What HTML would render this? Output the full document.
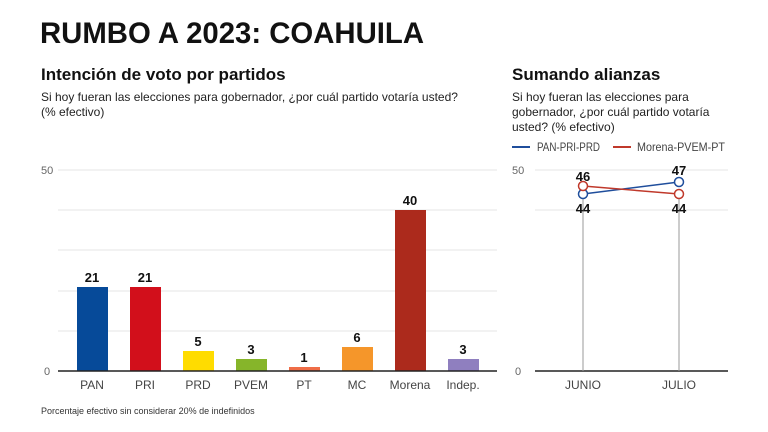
<!DOCTYPE html>
<html><head><meta charset="utf-8"><style>
body{margin:0;width:768px;height:432px;background:#fff;overflow:hidden;font-family:"Liberation Sans",sans-serif}
svg{position:absolute;left:0;top:0}
</style></head><body>
<svg width="768" height="432" font-family="Liberation Sans, sans-serif">
<text x="40" y="43" font-size="30" font-weight="bold" fill="#111" textLength="384" lengthAdjust="spacingAndGlyphs">RUMBO A 2023: COAHUILA</text>
<text x="41" y="80" font-size="17" font-weight="bold" fill="#111">Intención de voto por partidos</text>
<text x="41" y="101" font-size="12" fill="#222">Si hoy fueran las elecciones para gobernador, ¿por cuál partido votaría usted?</text>
<text x="41" y="116" font-size="12" fill="#222">(% efectivo)</text>
<text x="512" y="80" font-size="17" font-weight="bold" fill="#111">Sumando alianzas</text>
<text x="512" y="101" font-size="12" fill="#222">Si hoy fueran las elecciones para</text>
<text x="512" y="116" font-size="12" fill="#222">gobernador, ¿por cuál partido votaría</text>
<text x="512" y="131" font-size="12" fill="#222">usted? (% efectivo)</text>
<line x1="512" y1="147" x2="530" y2="147" stroke="#1f4e9c" stroke-width="2"/>
<text x="537" y="151" font-size="12" fill="#444" textLength="63" lengthAdjust="spacingAndGlyphs">PAN-PRI-PRD</text>
<line x1="613" y1="147" x2="631" y2="147" stroke="#c0392b" stroke-width="2"/>
<text x="637" y="151" font-size="12" fill="#444" textLength="88" lengthAdjust="spacingAndGlyphs">Morena-PVEM-PT</text>
<g stroke="#e6e6e6" stroke-width="1">
<line x1="58" y1="170" x2="497" y2="170"/><line x1="58" y1="210" x2="497" y2="210"/><line x1="58" y1="250" x2="497" y2="250"/><line x1="58" y1="291" x2="497" y2="291"/><line x1="58" y1="331" x2="497" y2="331"/>
<line x1="535" y1="170" x2="728" y2="170"/><line x1="535" y1="210" x2="728" y2="210"/>
</g>
<g font-size="11" fill="#666"><text x="41" y="174">50</text><text x="44" y="375">0</text><text x="512" y="174">50</text><text x="515" y="375">0</text></g>
<rect x="77" y="287" width="31" height="84" fill="#064a99"/>
<rect x="130" y="287" width="31" height="84" fill="#d20f1b"/>
<rect x="183" y="351" width="31" height="20" fill="#ffdc00"/>
<rect x="236" y="359" width="31" height="12" fill="#86b52a"/>
<rect x="289" y="367" width="31" height="4" fill="#ef6d47"/>
<rect x="342" y="347" width="31" height="24" fill="#f5962a"/>
<rect x="395" y="210" width="31" height="161" fill="#ac2a1c"/>
<rect x="448" y="359" width="31" height="12" fill="#8f7fbf"/>
<line x1="58" y1="371" x2="497" y2="371" stroke="#222" stroke-width="1.5"/>
<line x1="535" y1="371" x2="728" y2="371" stroke="#222" stroke-width="1.5"/>
<g font-size="13" font-weight="bold" fill="#111" text-anchor="middle">
<text x="92" y="282">21</text><text x="145" y="282">21</text><text x="198" y="346">5</text><text x="251" y="354">3</text><text x="304" y="362">1</text><text x="357" y="342">6</text><text x="410" y="205">40</text><text x="463" y="354">3</text>
</g>
<g font-size="12" fill="#444" text-anchor="middle">
<text x="92" y="389">PAN</text><text x="145" y="389">PRI</text><text x="198" y="389">PRD</text><text x="251" y="389">PVEM</text><text x="304" y="389">PT</text><text x="357" y="389">MC</text><text x="410" y="389">Morena</text><text x="463" y="389">Indep.</text>
<text x="583" y="389">JUNIO</text><text x="679" y="389">JULIO</text>
</g>
<line x1="583" y1="194" x2="583" y2="371" stroke="#999"/>
<line x1="679" y1="194" x2="679" y2="371" stroke="#999"/>
<polyline points="583,194 679,182" fill="none" stroke="#1f4e9c" stroke-width="1.5"/>
<polyline points="583,186 679,194" fill="none" stroke="#c0392b" stroke-width="1.5"/>
<circle cx="583" cy="194" r="4.5" fill="#fff" stroke="#1f4e9c" stroke-width="1.5"/>
<circle cx="679" cy="182" r="4.5" fill="#fff" stroke="#1f4e9c" stroke-width="1.5"/>
<circle cx="583" cy="186" r="4.5" fill="#fff" stroke="#c0392b" stroke-width="1.5"/>
<circle cx="679" cy="194" r="4.5" fill="#fff" stroke="#c0392b" stroke-width="1.5"/>
<g font-size="13" font-weight="bold" fill="#111" text-anchor="middle">
<text x="583" y="181">46</text><text x="583" y="213">44</text><text x="679" y="175">47</text><text x="679" y="213">44</text>
</g>
<text x="41" y="414" font-size="9" fill="#333">Porcentaje efectivo sin considerar 20% de indefinidos</text>
</svg>
</body></html>
